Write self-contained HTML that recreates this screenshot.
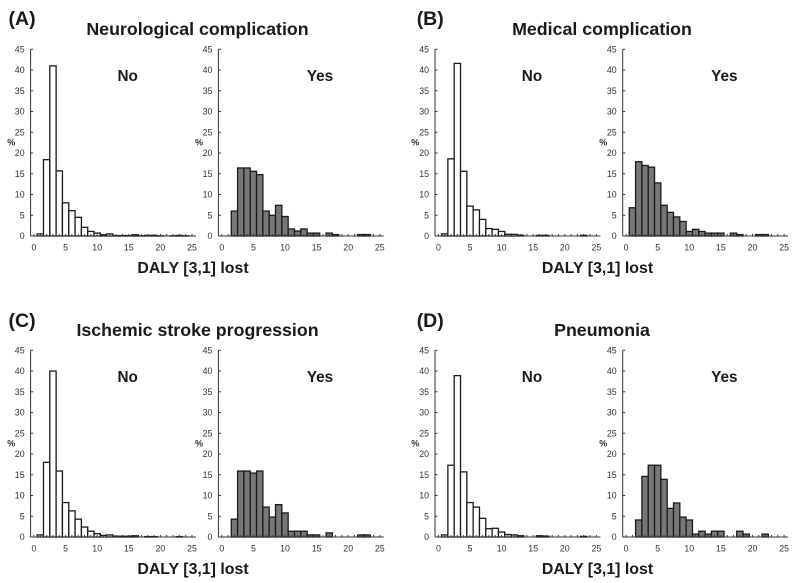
<!DOCTYPE html>
<html>
<head>
<meta charset="utf-8">
<style>
html,body{margin:0;padding:0;background:#fff;}
svg{display:block;filter:blur(0.35px);}
text{font-family:"Liberation Sans",sans-serif;}
</style>
</head>
<body>
<svg id="chart" width="800" height="583" viewBox="0 0 800 583" xmlns="http://www.w3.org/2000/svg"></svg>
<script>
// Values are percentages for DALY bins 0..25
var binCategories = [0,1,2,3,4,5,6,7,8,9,10,11,12,13,14,15,16,17,18,19,20,21,22,23,24,25];
var neuroNo   = [0,0.5,18.4,41,15.7,8,6.1,4.5,2.1,1.1,0.7,0.3,0.5,0.1,0.1,0.1,0.3,0.05,0.15,0.15,0.05,0,0.05,0.15,0.05,0];
var neuroYes  = [0,0,6,16.4,16.4,15.6,14.8,6,5,7.4,4.7,1.7,1.2,1.7,0.7,0.7,0,0.7,0.35,0,0,0,0.35,0.35,0,0];
var medNo     = [0,0.5,18.6,41.6,15.6,7.2,6.3,4,1.8,1.6,1.1,0.4,0.4,0.2,0,0,0.15,0.15,0,0,0,0,0,0.15,0,0];
var medYes    = [0,6.8,17.9,17,16.6,12.8,7.4,5.7,4.6,3.5,1.1,1.6,1.1,0.7,0.7,0.7,0,0.7,0.35,0,0,0.35,0.35,0,0,0];
var strokeNo  = [0,0.5,18,40,15.9,8.3,6.3,4.3,2.4,1.4,0.8,0.4,0.5,0.2,0.2,0.2,0.3,0,0.1,0.1,0,0,0,0.1,0,0];
var strokeYes = [0,0,4.3,15.9,15.9,15.4,15.9,7.2,4.8,7.8,5.8,1.4,1.4,1.4,0.5,0.5,0,1,0,0,0,0,0.5,0.5,0,0];
var pneuNo    = [0,0.5,17.3,38.9,15.7,8.3,7.2,4.5,2,2.1,1.2,0.6,0.5,0.3,0,0,0.3,0.2,0,0,0,0,0,0.15,0,0];
var pneuYes   = [0,0,4.1,14.6,17.3,17.3,13.9,6.9,8.2,4.8,4.1,0.7,1.4,0.7,1.4,1.4,0,0,1.4,0.7,0,0,0.7,0,0,0];
var yTickLabels = [0,5,10,15,20,25,30,35,40,45];
var xTickLabels = [0,5,10,15,20,25];

var NS = 'http://www.w3.org/2000/svg';
var svg = document.getElementById('chart');
var X_UNIT = 6.32, Y_SPAN = 186.7, Y_MAX = 45;

function mk(parent, tag, attrs, txt) {
  var el = document.createElementNS(NS, tag);
  for (var k in attrs) el.setAttribute(k, attrs[k]);
  if (txt !== undefined) el.textContent = txt;
  parent.appendChild(el);
  return el;
}

function drawHist(group, values, axisX, baseY, fill, pctX, label) {
  var zeroX = axisX + 3.4;
  function xs(v) { return zeroX + v * X_UNIT; }
  function ys(v) { return baseY - v / Y_MAX * Y_SPAN; }
  var g = mk(group, 'g', {});
  
  

  binCategories.forEach(function (c, i) {
    var v = values[i];
    if (!v) return;
    var bar = mk(g, 'rect', {
      x: xs(c - 0.5), y: ys(v), width: X_UNIT, height: baseY - ys(v),
      fill: fill, stroke: '#1a1a1a', 'stroke-width': 1.3
    });
    
    
  });

  var yAxis = mk(g, 'line', {x1: axisX, x2: axisX, y1: ys(Y_MAX), y2: baseY, stroke: '#333', 'stroke-width': 1});
  
  
  var xAxis = mk(g, 'line', {x1: axisX, x2: xs(25) + 4, y1: baseY, y2: baseY, stroke: '#333', 'stroke-width': 1});
  
  

  yTickLabels.forEach(function (t) {
    mk(g, 'line', {x1: axisX, x2: axisX + 2.5, y1: ys(t), y2: ys(t), stroke: '#333', 'stroke-width': 1});
    var yl = mk(g, 'text', {x: axisX - 6, y: ys(t) + 3.2, 'text-anchor': 'end', 'font-size': 8.8, fill: '#333'}, t);
    
    
  });
  binCategories.forEach(function (c) {
    mk(g, 'line', {x1: xs(c), x2: xs(c), y1: baseY - 2, y2: baseY, stroke: '#333', 'stroke-width': 1});
  });
  xTickLabels.forEach(function (t) {
    var xl = mk(g, 'text', {x: xs(t), y: baseY + 14.5, 'text-anchor': 'middle', 'font-size': 8.8, fill: '#333'}, t);
    
    
  });
  var pct = mk(g, 'text', {x: pctX, y: baseY - 90.5, 'text-anchor': 'middle', 'font-size': 9, 'font-weight': 'bold', fill: '#333'}, '%');
  
  
}

function drawPanel(o) {
  var g = mk(svg, 'g', {});
  
  

  var letter = mk(g, 'text', {x: o.letterX, y: o.letterY, 'font-size': 19.5, 'font-weight': 'bold', fill: '#1a1a1a'}, o.letter);
  
  

  var title = mk(g, 'text', {x: o.titleX, y: o.titleY, 'text-anchor': 'middle', 'font-size': 17.8, 'font-weight': 'bold', fill: '#1a1a1a'}, o.title);
  
  

  var no = mk(g, 'text', {x: o.noX, y: o.subY, 'text-anchor': 'middle', 'font-size': 15.3, 'font-weight': 'bold', fill: '#1a1a1a'}, 'No');
  
  

  var yes = mk(g, 'text', {x: o.yesX, y: o.subY, 'text-anchor': 'middle', 'font-size': 15.3, 'font-weight': 'bold', fill: '#1a1a1a'}, 'Yes');
  
  

  var xt = mk(g, 'text', {x: o.xTitleX, y: o.xTitleY, 'text-anchor': 'middle', 'font-size': 15.9, 'font-weight': 'bold', fill: '#1a1a1a'}, 'DALY [3,1] lost');
  
  

  drawHist(g, o.no, o.axisNo, o.baseY, '#ffffff', o.pctNo, o.key + '-no');
  drawHist(g, o.yes, o.axisYes, o.baseY, '#777777', o.pctYes, o.key + '-yes');
}

drawPanel({key:'a', letter:'(A)', title:'Neurological complication', no:neuroNo, yes:neuroYes,
  axisNo:30.6, axisYes:218.4, baseY:236, letterX:8.5, letterY:25, titleX:197.5, titleY:35,
  noX:127.7, yesX:320, subY:81, xTitleX:193, xTitleY:273, pctNo:11.3, pctYes:199});
drawPanel({key:'b', letter:'(B)', title:'Medical complication', no:medNo, yes:medYes,
  axisNo:435, axisYes:622.7, baseY:236, letterX:416.7, letterY:25, titleX:602, titleY:35,
  noX:532, yesX:724.3, subY:81, xTitleX:597.5, xTitleY:273, pctNo:415.3, pctYes:603.3});
drawPanel({key:'c', letter:'(C)', title:'Ischemic stroke progression', no:strokeNo, yes:strokeYes,
  axisNo:30.6, axisYes:218.4, baseY:537, letterX:8.5, letterY:327, titleX:197.5, titleY:336,
  noX:127.7, yesX:320, subY:382, xTitleX:193, xTitleY:574, pctNo:11.3, pctYes:199});
drawPanel({key:'d', letter:'(D)', title:'Pneumonia', no:pneuNo, yes:pneuYes,
  axisNo:435, axisYes:622.7, baseY:537, letterX:416.7, letterY:327, titleX:602, titleY:336,
  noX:532, yesX:724.3, subY:382, xTitleX:597.5, xTitleY:574, pctNo:415.3, pctYes:603.3});
</script>
</body>
</html>
